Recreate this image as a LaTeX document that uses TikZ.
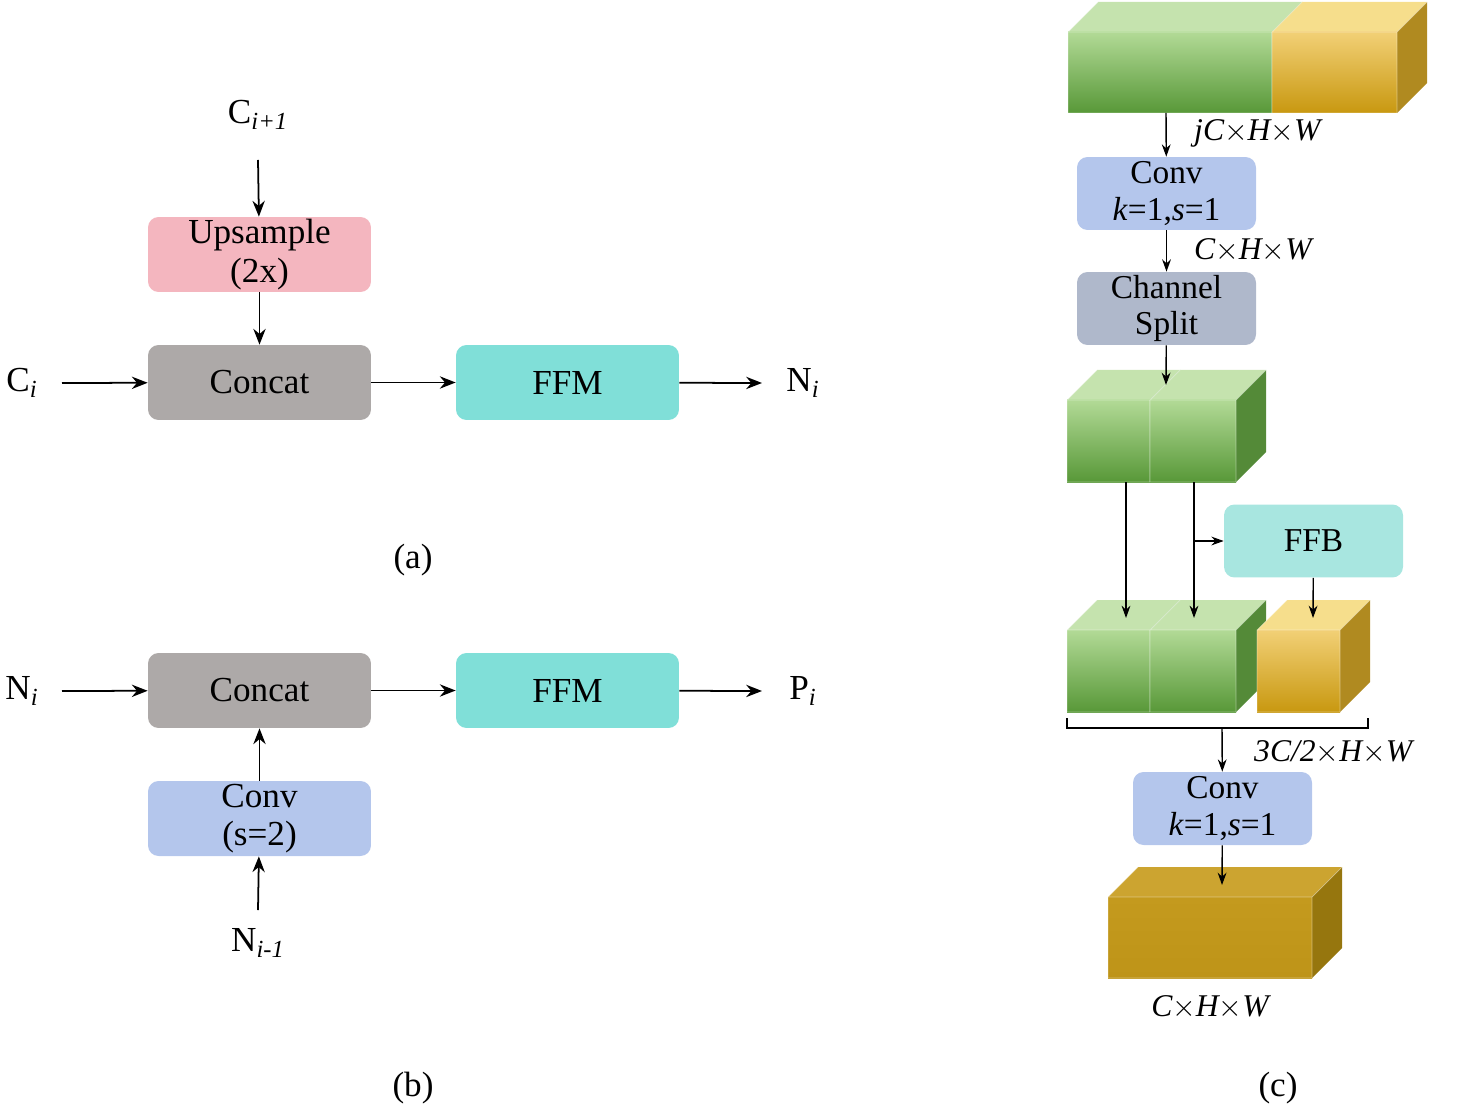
\documentclass[tikz,border=0pt]{standalone}
\usepackage{fontspec}
\setmainfont{Liberation Serif}
\usetikzlibrary{positioning,arrows.meta,calc}
\definecolor{upsam}{RGB}{244,182,191}
\definecolor{concat}{RGB}{173,169,168}
\definecolor{ffm}{RGB}{128,223,216}
\definecolor{conv}{RGB}{180,198,236}
\definecolor{split}{RGB}{175,184,203}
\definecolor{ffb}{RGB}{168,230,224}
\definecolor{gtop}{RGB}{197,227,174}
\definecolor{gfa}{RGB}{178,218,150}
\definecolor{gfb}{RGB}{88,152,56}
\definecolor{gside}{RGB}{84,138,56}
\definecolor{ytop}{RGB}{246,222,140}
\definecolor{yfa}{RGB}{242,208,118}
\definecolor{yfb}{RGB}{200,152,16}
\definecolor{yside}{RGB}{176,138,32}
\definecolor{dtop}{RGB}{204,164,48}
\definecolor{dfa}{RGB}{196,154,30}
\definecolor{dfb}{RGB}{190,148,24}
\definecolor{dside}{RGB}{150,118,14}
% cube: x1, y1, x2, y2, colour prefix (front top/bottom, top, side)
\newcommand{\blockcube}[5]{%
  \fill[#5top] (#1,#2) -- ++(30,-30) -- (#3+30,#2-30) -- (#3,#2) -- cycle;
  \fill[#5side] (#3,#2) -- ++(30,-30) -- (#3+30,#4-30) -- (#3,#4) -- cycle;
  \shade[top color=#5fa,bottom color=#5fb] (#1,#2) rectangle (#3,#4);
  \draw[white,opacity=0.4,thin] (#1,#2) rectangle (#3,#4) (#1,#2) -- ++(30,-30) (#3,#2) -- ++(30,-30);
}
\tikzset{
  box/.style={rounded corners=6pt,minimum width=4.46cm,minimum height=1.5cm,align=center,inner sep=0pt,font=\fontsize{20}{22}\selectfont},
  cbox/.style={box,minimum width=3.58cm,minimum height=1.46cm,font=\fontsize{19}{21}\selectfont},
  lbl/.style={font=\fontsize{20}{22}\selectfont},
  dim/.style={font=\fontsize{18}{20}\selectfont\itshape},
  arr/.style={-{Stealth[length=9pt,width=7pt]},line width=1pt},
  sarr/.style={-{Stealth[length=7pt,width=5pt]},line width=0.8pt}
}
\begin{document}
\begin{tikzpicture}[x=0.02cm,y=-0.02cm]
    \useasboundingbox (0,0) rectangle (1459,1114);

    % (a)
    \node[lbl] (ci1) at (258,115) {C\textsubscript{\textit{i+1}}};
    \node[box,fill=upsam] (up) at (259.5,254.5) {Upsample\\(2x)};
    \node[box,fill=concat] (cata) at (259.5,382.5) {Concat};
    \node[box,fill=ffm] (ffma) at (567.5,382.5) {FFM};
    \node[lbl] (cia) at (22,383) {C\textsubscript{\textit{i}}};
    \node[lbl] (nia) at (803,383) {N\textsubscript{\textit{i}}};
    \node[lbl] (capa) at (413,560) {(a)};
    \draw[arr] (258,160) -- (up);
    \draw[arr] (up) -- (cata);
    \draw[arr] (62,383) -- (cata);
    \draw[arr] (cata) -- (ffma);
    \draw[arr] (ffma) -- (762,383);

    % (b)
    \node[box,fill=concat] (catb) at (259.5,690.5) {Concat};
    \node[box,fill=ffm] (ffmb) at (567.5,690.5) {FFM};
    \node[box,fill=conv] (convb) at (259.5,818.5) {Conv\\(s=2)};
    \node[lbl] (nib) at (22,691) {N\textsubscript{\textit{i}}};
    \node[lbl] (pib) at (803,691) {P\textsubscript{\textit{i}}};
    \node[lbl] (nim) at (258,943) {N\textsubscript{\textit{i-1}}};
    \node[lbl] (capb) at (413,1088) {(b)};
    \draw[arr] (62,691) -- (catb);
    \draw[arr] (catb) -- (ffmb);
    \draw[arr] (ffmb) -- (762,691);
    \draw[arr] (convb) -- (catb);
    \draw[arr] (258,910) -- (convb);

    % (c) cubes
    \blockcube{1068}{32}{1272}{113}{g}
    \blockcube{1272}{32}{1397}{113}{y}
    \blockcube{1067}{400}{1150}{482}{g}
    \blockcube{1150}{400}{1236}{482}{g}
    \blockcube{1067}{630}{1150}{712}{g}
    \blockcube{1150}{630}{1236}{712}{g}
    \blockcube{1257}{630}{1340}{712}{y}
    \blockcube{1108}{897}{1312}{978}{d}

    \node[cbox,fill=conv] (conv1) at (1166.5,193.5) {Conv\\\textit{k}=1,\textit{s}=1};
    \node[cbox,fill=split] (spl) at (1166.5,308.5) {Channel\\Split};
    \node[cbox,fill=ffb] (ffb) at (1313.5,541) {FFB};
    \node[cbox,fill=conv] (conv2) at (1222.5,808.5) {Conv\\\textit{k}=1,\textit{s}=1};
    \node[dim,anchor=west] (d1) at (1188,133) {jC$\times$H$\times$W};
    \node[dim,anchor=west] (d2) at (1188,250) {C$\times$H$\times$W};
    \node[dim,anchor=west] (d3) at (1248,752) {3C/2$\times$H$\times$W};
    \node[dim] (d4) at (1210,1007) {C$\times$H$\times$W};
    \node[lbl] (capc) at (1278,1088) {(c)};

    \coordinate (top) at (1166,113);
    \coordinate (spin) at (1166,385);
    \coordinate (gl) at (1126,482);
    \coordinate (gr) at (1194,482);
    \coordinate (br) at (1194,541);
    \coordinate (bm) at (1222,728);
    \coordinate (fin) at (1222,885);
    \draw[sarr] (top) -- (conv1);
    \draw[sarr] (conv1) -- (spl);
    \draw[sarr] (spl) -- (spin);
    \draw[sarr] (gl) -- (1126,618);
    \draw[sarr] (gr) -- (1194,618);
    \draw[sarr] (br) -- (ffb);
    \draw[sarr] (ffb) -- (1313,618);
    \draw[line width=0.8pt] (1067,718) -- (1067,728) -- (1368,728) -- (1368,718);
    \draw[sarr] (bm) -- (conv2);
    \draw[sarr] (conv2) -- (fin);
\end{tikzpicture}
\end{document}
